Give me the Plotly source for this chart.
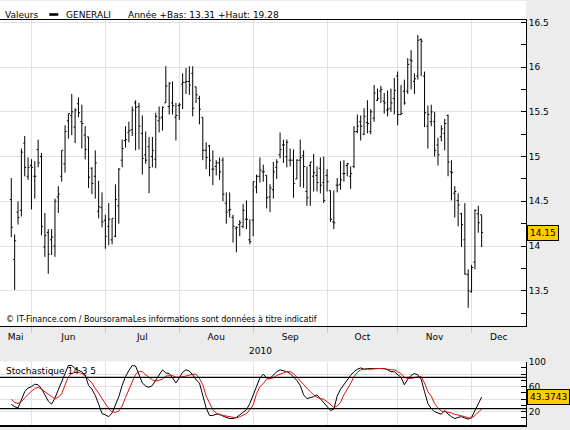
import plotly.graph_objects as go
import pandas as pd

W, H = 570, 430

# ---- data ----
dates = pd.bdate_range("2010-05-24", "2010-12-06")  # trading days shown
month_names = ["Mai", "Jun", "Jul", "Aou", "Sep", "Oct", "Nov", "Dec"]

open_ = [14.52, 13.85, 14.38, 14.40, 15.15, 14.78, 14.90, 14.78, 15.08, 15.00,
         13.99, 14.15, 14.07, 14.00, 14.55, 14.78, 14.92, 15.40, 15.46, 15.33,
         15.59, 15.39, 15.24, 15.22, 14.87, 14.78, 14.39, 14.43, 14.29, 14.22,
         14.07, 14.11, 14.45, 14.96, 15.18, 15.27, 15.30, 15.60, 15.56, 15.26,
         15.02, 15.11, 15.00, 14.97, 15.40, 15.44, 15.60, 15.56, 15.60, 15.44,
         15.57, 15.81, 15.83, 15.84, 15.93, 15.78, 15.65, 15.44, 15.07, 15.12,
         14.86, 14.89, 14.93, 14.96, 14.48, 14.40, 14.32, 14.20, 14.24, 14.22,
         14.30, 14.07, 14.29, 14.66, 14.78, 14.83, 14.79, 14.55, 14.63, 14.88,
         15.02, 15.13, 15.00, 14.96, 14.96, 14.75, 14.96, 15.01, 14.61, 14.90,
         14.78, 14.79, 14.87, 14.71, 14.79, 14.62, 14.27, 14.68, 14.69, 14.81,
         14.90, 14.78, 14.89, 15.28, 15.39, 15.25, 15.38, 15.28, 15.43, 15.63,
         15.73, 15.62, 15.52, 15.54, 15.65, 15.90, 15.47, 15.73, 15.73, 16.08,
         15.84, 15.90, 16.31, 15.90, 15.34, 15.39, 15.39, 15.13, 15.22, 15.26,
         15.46, 14.83, 14.59, 14.51, 14.36, 14.07, 13.68, 13.49, 13.82, 14.36,
         14.35]
high = [14.76, 14.13, 14.50, 15.09, 15.23, 14.99, 14.97, 14.95, 15.19, 15.04,
        14.37, 14.19, 14.19, 14.53, 14.67, 15.07, 15.35, 15.48, 15.70, 15.54,
        15.66, 15.58, 15.34, 15.22, 14.88, 15.07, 14.73, 14.60, 14.35, 14.48,
        14.31, 14.69, 14.87, 15.19, 15.34, 15.39, 15.56, 15.63, 15.60, 15.46,
        15.28, 15.22, 15.22, 15.49, 15.56, 15.56, 16.01, 15.83, 15.84, 15.60,
        15.60, 15.93, 15.99, 16.01, 16.01, 15.78, 15.68, 15.44, 15.16, 15.13,
        15.07, 14.96, 14.99, 14.99, 14.60, 14.60, 14.35, 14.22, 14.29, 14.47,
        14.51, 14.30, 14.72, 14.80, 14.99, 14.91, 14.79, 14.69, 14.94, 14.97,
        15.27, 15.19, 15.19, 15.09, 15.08, 14.97, 15.19, 15.07, 14.89, 14.94,
        15.03, 14.89, 14.99, 15.00, 14.86, 14.62, 14.62, 14.76, 14.95, 14.96,
        14.93, 14.89, 15.34, 15.47, 15.46, 15.54, 15.63, 15.53, 15.80, 15.76,
        15.79, 15.71, 15.74, 15.76, 15.88, 15.95, 15.80, 15.86, 16.10, 16.19,
        15.93, 16.36, 16.32, 15.95, 15.57, 15.58, 15.50, 15.21, 15.35, 15.42,
        15.47, 14.96, 14.67, 14.59, 14.37, 14.48, 13.74, 13.79, 14.41, 14.45,
        14.35]
low = [14.10, 13.51, 14.24, 14.33, 14.78, 14.74, 14.41, 14.53, 14.88, 14.12,
       13.88, 13.69, 13.90, 13.88, 14.37, 14.72, 14.82, 15.20, 15.24, 15.15,
       15.44, 15.09, 14.97, 14.65, 14.58, 14.53, 14.31, 14.21, 13.97, 14.01,
       14.02, 14.10, 14.25, 14.88, 15.10, 15.16, 15.23, 15.07, 15.08, 14.80,
       14.92, 14.59, 14.88, 14.87, 15.27, 15.29, 15.60, 15.47, 15.47, 15.18,
       15.41, 15.53, 15.70, 15.69, 15.45, 15.60, 15.36, 14.96, 14.86, 14.78,
       14.68, 14.79, 14.74, 14.50, 14.25, 14.32, 14.04, 13.93, 14.11, 14.20,
       14.19, 14.02, 14.11, 14.59, 14.71, 14.72, 14.42, 14.38, 14.53, 14.75,
       14.98, 14.93, 14.88, 14.89, 14.54, 14.75, 14.66, 14.65, 14.45, 14.45,
       14.61, 14.61, 14.59, 14.48, 14.61, 14.27, 14.19, 14.60, 14.63, 14.72,
       14.78, 14.64, 14.87, 15.26, 15.18, 15.24, 15.26, 15.25, 15.39, 15.62,
       15.60, 15.48, 15.45, 15.50, 15.47, 15.35, 15.47, 15.58, 15.70, 15.75,
       15.70, 15.86, 15.90, 15.33, 15.09, 15.34, 15.00, 14.90, 15.17, 15.07,
       14.78, 14.51, 14.32, 14.22, 13.99, 13.68, 13.31, 13.48, 13.74, 14.15,
       13.99]
close = [14.21, 14.06, 14.32, 15.05, 14.88, 14.88, 14.88, 14.78, 14.93, 14.22,
         14.12, 13.91, 14.10, 14.50, 14.58, 15.07, 15.28, 15.48, 15.50, 15.52,
         15.49, 15.37, 15.08, 14.77, 14.70, 14.93, 14.44, 14.27, 14.11, 14.30,
         14.31, 14.52, 14.86, 15.09, 15.19, 15.29, 15.52, 15.55, 15.34, 14.98,
         14.96, 14.88, 15.07, 15.45, 15.43, 15.55, 15.79, 15.82, 15.57, 15.46,
         15.58, 15.83, 15.84, 15.80, 15.54, 15.69, 15.53, 15.07, 14.99, 14.96,
         14.86, 14.93, 14.83, 14.58, 14.38, 14.41, 14.22, 14.21, 14.26, 14.40,
         14.30, 14.05, 14.72, 14.78, 14.85, 14.83, 14.54, 14.65, 14.83, 14.94,
         15.08, 15.13, 15.16, 14.96, 14.70, 14.96, 14.99, 14.89, 14.54, 14.94,
         14.82, 14.71, 14.68, 14.51, 14.72, 14.30, 14.26, 14.68, 14.74, 14.81,
         14.92, 14.81, 15.28, 15.34, 15.34, 15.45, 15.37, 15.50, 15.71, 15.65,
         15.75, 15.60, 15.53, 15.60, 15.74, 15.47, 15.48, 15.60, 16.03, 16.07,
         15.87, 16.30, 16.29, 15.49, 15.47, 15.50, 15.07, 15.02, 15.31, 15.37,
         14.94, 14.82, 14.61, 14.46, 14.24, 13.69, 13.50, 13.76, 14.40, 14.26,
         14.15]

stoch_k = [31.7, 28, 26, 40, 52, 58, 60, 64, 63, 57,
           48, 37, 32, 42, 55, 68, 84, 94, 94, 89,
           86, 84, 79, 62, 56, 46, 32, 17, 15, 12,
           18, 30, 44, 62, 76, 86, 94, 93, 80, 66,
           61, 59, 62, 70, 80, 87, 82, 81, 74, 66,
           74, 83, 87, 85, 79, 71, 66, 45, 26, 14,
           14, 16, 16, 13, 11, 9, 9, 11, 15, 19,
           23, 33, 47, 62, 74, 80, 74, 73, 78, 84,
           87, 86, 84, 81, 75, 70, 62, 47, 41, 42,
           44, 47, 41, 34, 28, 22, 24, 45, 56, 64,
           71, 78, 84, 88, 90, 88, 89, 89, 90, 90,
           90, 89, 87, 84, 84, 80, 75, 63, 72, 78,
           81, 79, 72, 52, 33, 25, 20, 18, 16, 22,
           16, 12, 9, 11, 12, 10, 8, 11, 22, 33,
           43.3743]
stoch_d = [40, 35, 33, 36, 42, 48, 53, 57, 59, 56,
           52, 47, 44, 41, 43, 49, 64, 76, 81, 83,
           83, 81, 77, 72, 66, 57, 50, 41, 32, 25,
           20, 19, 21, 29, 43, 55, 69, 80, 84, 84,
           79, 75, 71, 69, 70, 72, 77, 78, 78, 75,
           75, 76, 77, 79, 80, 80, 73, 63, 45, 34,
           23, 18, 15, 14, 13, 11, 10, 10, 12, 14,
           17, 23, 31, 49, 60, 65, 72, 73, 74, 78,
           80, 83, 84, 84, 81, 75, 69, 64, 57, 52,
           47, 43, 41, 40, 36, 31, 27, 29, 35, 47,
           55, 65, 76, 83, 87, 88, 88, 88, 89, 89,
           89, 89, 88, 87, 87, 84, 81, 75, 73, 73,
           75, 76, 76, 66, 52, 45, 33, 26, 21, 20,
           20, 18, 16, 15, 13, 12, 10, 10, 14, 19,
           24]

stoch_levels = [25, 75]
stoch_tickvals = [20, 40, 60, 80, 100]
stoch_ticktext = ["20", "", "60", "", "100"]
legend_low, legend_high = 13.31, 19.28
last_price = close[-1]
last_stoch = stoch_k[-1]

# ---- styling ----
FONT = "DejaVu Sans"
GREY_BG = "#ECECEC"
GRID = "#E2E2E2"
BOX = "#FFCC00"


def fx(px):
    return px / W


def fy(py):
    return 1 - py / H


x = list(range(len(dates)))
month_starts = [i for i in range(len(dates))
                if i == 0 or dates[i].month != dates[i - 1].month]
boundaries = month_starts[1:]
X_MIN, X_MAX = -3.36, 153.2
edges = [X_MIN] + boundaries + [X_MAX]
label_pos = [(edges[j] + edges[j + 1]) / 2 for j in range(len(edges) - 1)]

XDOM = [0, fx(526)]

fig = go.Figure()
fig.add_trace(go.Ohlc(
    x=x, open=open_, high=high, low=low, close=close,
    increasing=dict(line=dict(color="black", width=1)),
    decreasing=dict(line=dict(color="black", width=1)),
    tickwidth=0.45, xaxis="x", yaxis="y", showlegend=False, hoverinfo="skip"))
fig.add_trace(go.Scatter(
    x=x, y=stoch_k, mode="lines", line=dict(color="black", width=1),
    xaxis="x2", yaxis="y2", showlegend=False, hoverinfo="skip"))
fig.add_trace(go.Scatter(
    x=x, y=stoch_d, mode="lines", line=dict(color="#DD1111", width=1),
    xaxis="x2", yaxis="y2", showlegend=False, hoverinfo="skip"))

tickfont = dict(family=FONT, size=9, color="black")

fig.update_layout(
    width=W, height=H, margin=dict(l=0, r=0, t=0, b=0, autoexpand=False),
    paper_bgcolor=GREY_BG, plot_bgcolor="white",
    font=dict(family=FONT, size=9, color="black"),
    showlegend=False,
    xaxis=dict(
        domain=XDOM, range=[X_MIN, X_MAX], anchor="y",
        showline=True, linecolor="black", linewidth=1, mirror=True,
        showgrid=False, zeroline=False,
        tickmode="array", tickvals=label_pos, ticktext=month_names,
        ticks="", tickfont=tickfont, ticklabelstandoff=2,
        minor=dict(tickmode="array", tickvals=boundaries, showgrid=True,
                   gridcolor=GRID, gridwidth=1, ticks="outside", ticklen=6,
                   tickcolor="#C8C8C8", tickwidth=1),
        rangeslider=dict(visible=False), fixedrange=True),
    yaxis=dict(
        domain=[fy(326), fy(19.5)], range=[13.107, 16.532], anchor="x",
        side="right", showline=True, linecolor="black", linewidth=1,
        ticks="inside", ticklen=5, tickcolor="black", tickwidth=1,
        tick0=0, dtick=0.5, showgrid=True, gridcolor=GRID, zeroline=False,
        tickfont=tickfont,
        minor=dict(dtick=0.25, ticks="inside", ticklen=5, tickcolor="black",
                   showgrid=False)),
    xaxis2=dict(
        domain=XDOM, range=[X_MIN, X_MAX], anchor="y2",
        showline=True, linecolor="black", linewidth=1.5,
        showgrid=False, zeroline=False, showticklabels=False, ticks="",
        tickmode="array", tickvals=label_pos,
        minor=dict(tickmode="array", tickvals=boundaries, showgrid=True,
                   gridcolor=GRID, gridwidth=1, ticks=""),
        fixedrange=True),
    yaxis2=dict(
        domain=[fy(425), fy(361.5)], range=[-1.28, 100.3], anchor="x2",
        side="right", showline=True, linecolor="black", linewidth=1,
        tickmode="array", tickvals=stoch_tickvals, ticktext=stoch_ticktext,
        ticks="inside", ticklen=5, tickcolor="black",
        showgrid=True, gridcolor=GRID, zeroline=False, tickfont=tickfont,
        minor=dict(dtick=10, tick0=0, ticks="inside", ticklen=5,
                   tickcolor="black", showgrid=False)),
)

shapes = [
    dict(type="rect", xref="paper", yref="paper", x0=0, x1=fx(526),
         y0=fy(19.5), y1=fy(1), fillcolor="white", line=dict(width=0),
         layer="below"),
    dict(type="rect", xref="paper", yref="paper", x0=fx(49.3), x1=fx(58.3),
         y0=fy(15.8), y1=fy(13.2), fillcolor="black", line=dict(width=0)),
]
for lv in stoch_levels:
    shapes.append(dict(type="line", xref="x2 domain", yref="y2", x0=0, x1=1,
                       y0=lv, y1=lv, line=dict(color="black", width=1.3)))
fig.update_layout(shapes=shapes)

ann = [
    dict(text="Valeurs", x=fx(2.7), y=fy(14.5)),
    dict(text="GENERALI", x=fx(64.3), y=fy(14.5)),
    dict(text=f"Année +Bas: {legend_low:.2f} +Haut: {legend_high:.2f}",
         x=fx(126), y=fy(14.5)),
    dict(text="© IT-Finance.com / BoursoramaLes informations sont données à titre indicatif",
         x=fx(4.3), y=fy(318.5), font=dict(family=FONT, size=8, color="black")),
    dict(text="Stochastique 14 3 5", x=fx(4), y=fy(370.5)),
]
annotations = []
for a in ann:
    d = dict(xref="paper", yref="paper", xanchor="left", yanchor="middle",
             showarrow=False, font=dict(family=FONT, size=9, color="black"))
    d.update(a)
    annotations.append(d)
annotations.append(dict(text=str(dates[0].year), xref="paper", yref="paper",
                        x=fx(260), y=fy(351), xanchor="center",
                        yanchor="middle", showarrow=False,
                        font=dict(family=FONT, size=9, color="black")))
annotations.append(dict(text=f"{last_price:.2f}", xref="paper", yref="y",
                        x=fx(526.5), y=last_price, xanchor="left",
                        yanchor="middle", showarrow=False, bgcolor=BOX,
                        bordercolor="black", borderwidth=1, borderpad=2,
                        font=dict(family=FONT, size=9, color="black")))
annotations.append(dict(text=f"{last_stoch:.4f}", xref="paper", yref="y2",
                        x=fx(526.5), y=last_stoch, xanchor="left",
                        yanchor="middle", showarrow=False, bgcolor=BOX,
                        bordercolor="black", borderwidth=1, borderpad=2,
                        font=dict(family=FONT, size=9, color="black")))
fig.update_layout(annotations=annotations)

fig.write_html("out.html", config={"displayModeBar": False},
               post_script="document.body.style.margin='0';"
                           "document.body.style.overflow='hidden';")
